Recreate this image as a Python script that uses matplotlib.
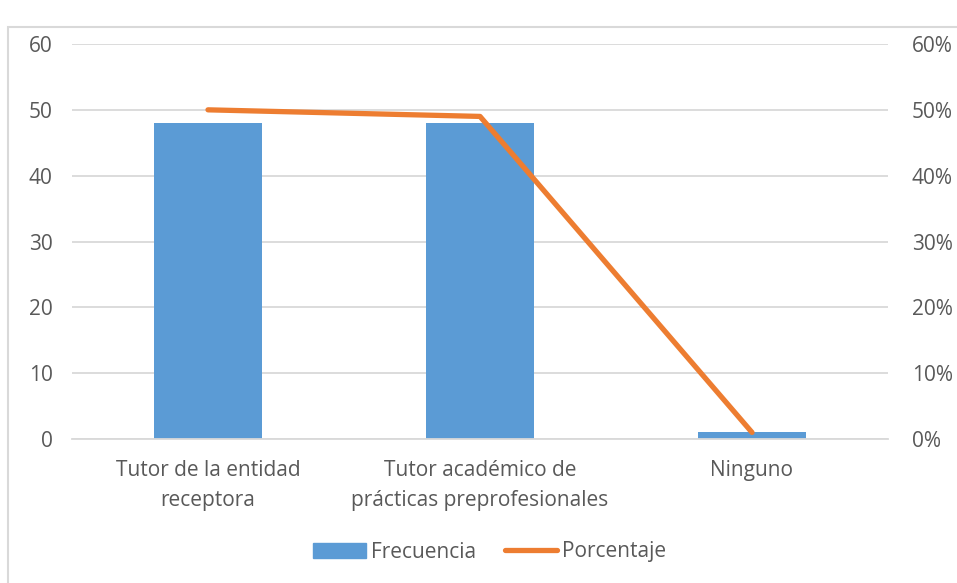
import matplotlib
matplotlib.use('Agg')
import matplotlib.pyplot as plt
from matplotlib.patches import Rectangle
from matplotlib.lines import Line2D
from matplotlib.ticker import FuncFormatter

# data
categories = ['Tutor de la entidad\nreceptora',
              'Tutor académico de\nprácticas preprofesionales',
              'Ninguno']
frecuencia = [48, 48, 1]
porcentaje = [0.50, 0.49, 0.01]
left_ticks = [0, 10, 20, 30, 40, 50, 60]
right_ticks = [0, 0.1, 0.2, 0.3, 0.4, 0.5, 0.6]

bar_color = '#5B9BD5'
line_color = '#ED7D31'
text_color = '#595959'
grid_color = '#D9D9D9'

plt.rcParams['font.family'] = ['Open Sans', 'DejaVu Sans']

fig = plt.figure(figsize=(9.57, 5.83), dpi=100)

# outer chart frame (cut by the image edge at right and bottom)
fig.patches.append(Rectangle((8 / 957, -0.05), 1.0, 1 - 27 / 583 + 0.05,
                             transform=fig.transFigure, fill=False,
                             edgecolor=grid_color, linewidth=1.5))

ax = fig.add_axes([72 / 957, 1 - 439 / 583, 816 / 957, 395 / 583])
x = list(range(len(categories)))
ax.bar(x, frecuencia, width=0.4, color=bar_color, zorder=2)
ax.set_xlim(-0.5, len(categories) - 0.5)
ax.set_ylim(0, 60)
ax.set_yticks(left_ticks)
ax.yaxis.grid(True, color=grid_color, linewidth=1.3, zorder=0)
ax.set_axisbelow(True)
for s in ['top', 'right', 'left']:
    ax.spines[s].set_visible(False)
ax.spines['bottom'].set_color(grid_color)
ax.spines['bottom'].set_linewidth(1.3)
ax.tick_params(axis='both', length=0, labelsize=15, colors=text_color)
ax.tick_params(axis='y', pad=14)
ax.tick_params(axis='x', pad=15)
ax.set_xticks(x)
ax.set_xticklabels(categories, linespacing=1.55)

ax2 = ax.twinx()
ax2.plot(x, porcentaje, color=line_color, linewidth=3.8,
         solid_capstyle='round', solid_joinstyle='round', zorder=3)
ax2.set_ylim(0, 0.6)
ax2.set_yticks(right_ticks)
ax2.yaxis.set_major_formatter(FuncFormatter(lambda v, p: f'{v * 100:.0f}%'))
for s in ['top', 'right', 'left', 'bottom']:
    ax2.spines[s].set_visible(False)
ax2.tick_params(axis='y', length=0, labelsize=15, colors=text_color, pad=17)

handles = [Rectangle((0, 0), 1, 1, color=bar_color),
           Line2D([0], [0], color=line_color, linewidth=3.8, solid_capstyle='round')]
fig.legend(handles, ['Frecuencia', 'Porcentaje'], loc='center',
           bbox_to_anchor=(490 / 957, 1 - 552 / 583), ncol=2, frameon=False,
           fontsize=15, labelcolor=text_color, handlelength=2.5,
           handletextpad=0.25, columnspacing=1.4)

plt.savefig('out.png', dpi=100)
plt.close()
